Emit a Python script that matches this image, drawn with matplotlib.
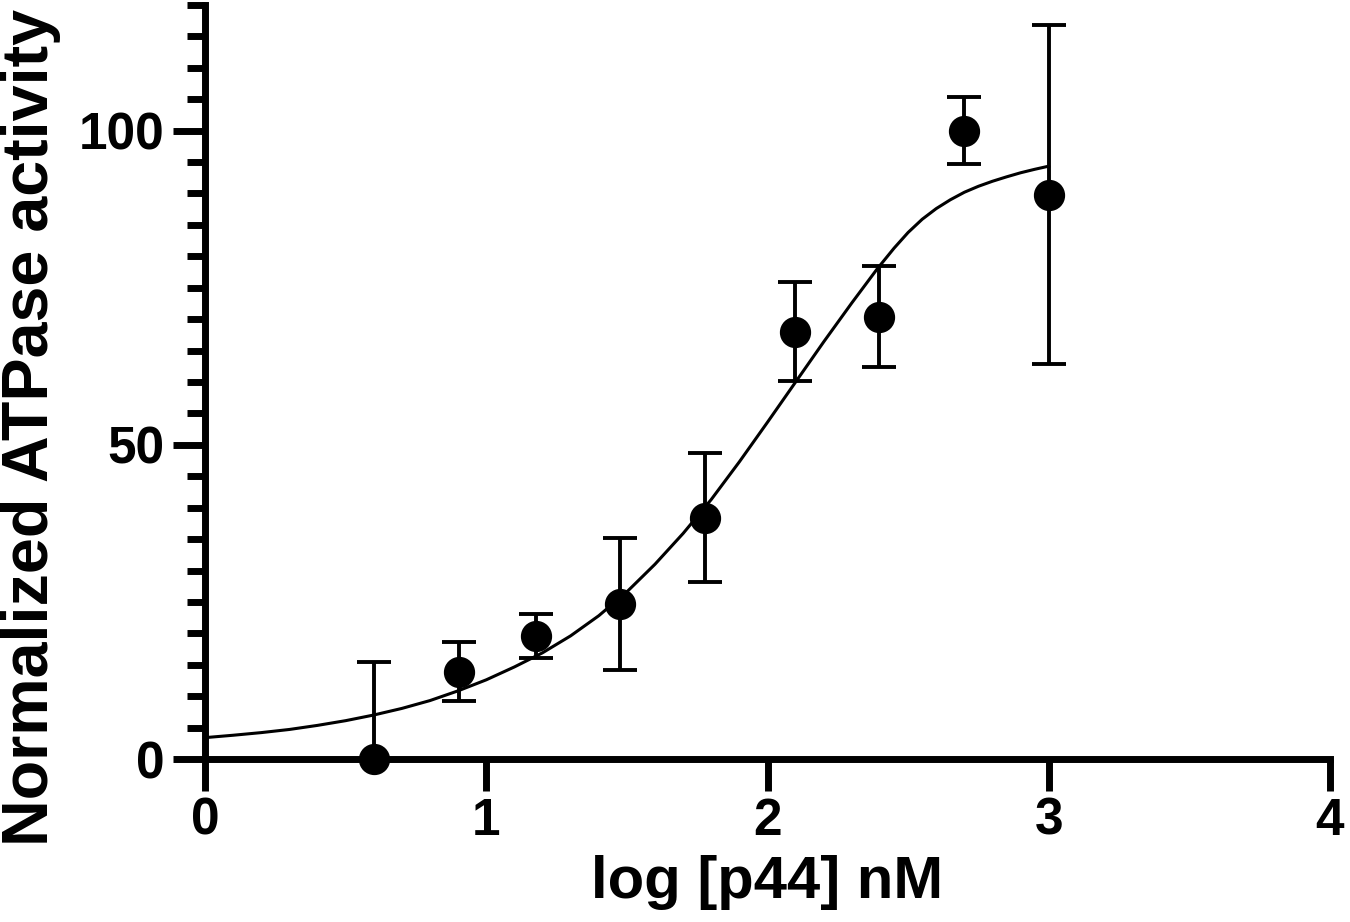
import numpy as np
import matplotlib.pyplot as plt
from matplotlib.ticker import MultipleLocator

plt.rcParams['font.family'] = ['Liberation Sans', 'DejaVu Sans']
plt.rcParams['font.weight'] = 'bold'

# data: log concentration, mean activity, error
log_conc = [0.602, 0.903, 1.176, 1.477, 1.778, 2.097, 2.398, 2.699, 3.0]
activity = [0.0, 13.9, 19.5, 24.6, 38.4, 68.0, 70.4, 100.0, 89.8]
act_err = [15.4, 4.7, 3.5, 10.5, 10.3, 7.9, 8.0, 5.3, 27.0]

# fitted curve
curve_x = [0.0, 0.1, 0.2, 0.3, 0.4, 0.5, 0.6, 0.7, 0.8, 0.9,
           1.0, 1.1, 1.2, 1.3, 1.4, 1.5, 1.6, 1.7, 1.8, 1.9,
           2.0, 2.1, 2.2, 2.3, 2.39, 2.45, 2.5, 2.55, 2.6, 2.65,
           2.7, 2.75, 2.8, 2.85, 2.9, 2.95, 3.0]
curve_y = [3.4, 3.78, 4.2, 4.7, 5.35, 6.1, 7.0, 8.05, 9.3, 10.85,
           12.6, 14.65, 16.9, 19.6, 22.8, 26.6, 31.0, 35.9, 41.3, 47.3,
           53.6, 60.0, 66.4, 72.6, 78.0, 81.3, 83.8, 85.9, 87.6, 89.0,
           90.2, 91.15, 91.95, 92.65, 93.3, 93.85, 94.35]

fig = plt.figure(figsize=(13.5, 9.22), dpi=100)
ax = fig.add_axes([205 / 1350, 163 / 922, 1125 / 1350, 754 / 922])

ax.plot(curve_x, curve_y, color='black', lw=2.2, zorder=2)

ax.errorbar(log_conc, activity, yerr=act_err, fmt='none', ecolor='black',
            elinewidth=2.8, capsize=12, capthick=2.8, zorder=3)
ax.plot(log_conc, activity, 'o', color='black', markersize=21.5,
        clip_on=False, zorder=4)

ax.set_xlim(0, 4)
ax.set_ylim(0, 120)
ax.set_xticks([0, 1, 2, 3, 4])
ax.set_yticks([0, 50, 100])
ax.yaxis.set_minor_locator(MultipleLocator(5))

for side in ['top', 'right']:
    ax.spines[side].set_visible(False)
for side in ['left', 'bottom']:
    ax.spines[side].set_linewidth(5)

ax.tick_params(axis='both', which='major', length=23, width=5, labelsize=37, pad=6)
ax.tick_params(axis='y', which='minor', length=13, width=5)
ax.tick_params(axis='x', which='major', pad=4)

ax.set_xlabel('log [p44] nM', fontsize=43, fontweight='bold')
ax.set_ylabel('Normalized ATPase activity', fontsize=46.5, fontweight='bold')
ax.xaxis.set_label_coords(0.5, -0.127)
ax.yaxis.set_label_coords(-0.128, 0.44)

fig.savefig('out.png', dpi=100)
